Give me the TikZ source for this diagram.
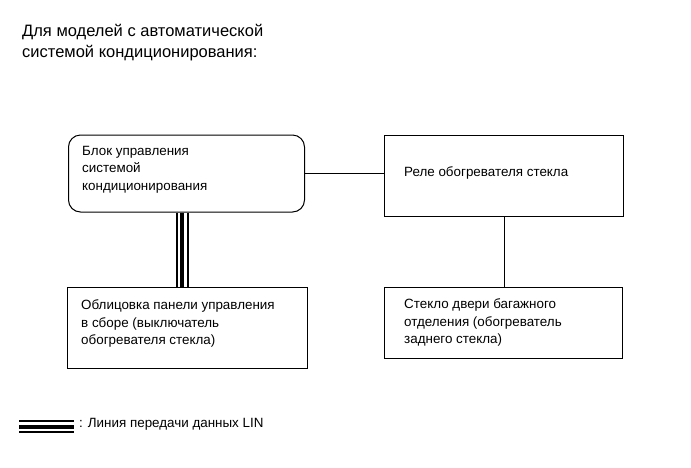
\documentclass[tikz,border=0pt]{standalone}
\usepackage{fontspec}
\setmainfont{Liberation Sans}
\usetikzlibrary{calc}
\begin{document}
\begin{tikzpicture}[x=1pt,y=-1pt,
  box/.style={draw=black,line width=1pt,inner sep=0,anchor=north west},
  txt/.style={anchor=north west,align=left,inner sep=0,font=\fontsize{13.4}{17.4}\selectfont},
  ttl/.style={anchor=north west,align=left,inner sep=0,font=\fontsize{16.5}{21}\selectfont},
  wire/.style={line width=1pt},
  linthin/.style={line width=1.2pt},
  linthick/.style={line width=4pt}]
\useasboundingbox (0,0) rectangle (691,467);
% strut height: 0.7*baselineskip -> top = baseline - 0.7*skip
\node[ttl] (title) at (22,{36-14.7}) {\strut Для моделей с автоматической\\системой кондиционирования:};
% boxes
\node[box,rounded corners=12pt,minimum width=236pt,minimum height=77pt] (b1) at (68,134.5) {};
\node[box,minimum width=239pt,minimum height=81pt] (b2) at (383.5,134.5) {};
\node[box,minimum width=240pt,minimum height=81pt] (b3) at (66.5,286.5) {};
\node[box,minimum width=238pt,minimum height=71pt] (b4) at (384,286.5) {};
% texts
\node[txt] (t1) at (82,{155-12.18}) {\strut Блок управления\\системой\\кондиционирования};
\node[txt] (t2) at (404,{176-12.18}) {\strut Реле обогревателя стекла};
\node[txt] (t3) at (81,{309.5-12.18}) {\strut Облицовка панели управления\\в сборе (выключатель\\обогревателя стекла)};
\node[txt] (t4) at (404,{308.5-12.18}) {\strut Стекло двери багажного\\отделения (обогреватель\\заднего стекла)};
% connectors
\draw[wire] (b1.east) -- (b1.east -| b2.west);
\coordinate (va) at (504,0);
\draw[wire] (b2.south -| va) -- (b4.north -| va);
\coordinate (la) at (177,0);
\coordinate (lm) at (182,0);
\coordinate (lc) at (188,0);
\draw[linthin] (b1.south -| la) -- (b3.north -| la);
\draw[linthick] (b1.south -| lm) -- (b3.north -| lm);
\draw[linthin] (b1.south -| lc) -- (b3.north -| lc);
% legend
\coordinate (l1) at (19,421);
\coordinate (l2) at (74,421);
\coordinate (m1) at (19,426.5);
\coordinate (m2) at (74,426.5);
\coordinate (n1) at (19,432);
\coordinate (n2) at (74,432);
\draw[linthin] (l1) -- (l2);
\draw[linthick] (m1) -- (m2);
\draw[linthin] (n1) -- (n2);
\node[txt] (leg) at (79,{427-12.18}) {\strut : Линия передачи данных LIN};
\end{tikzpicture}
\end{document}
